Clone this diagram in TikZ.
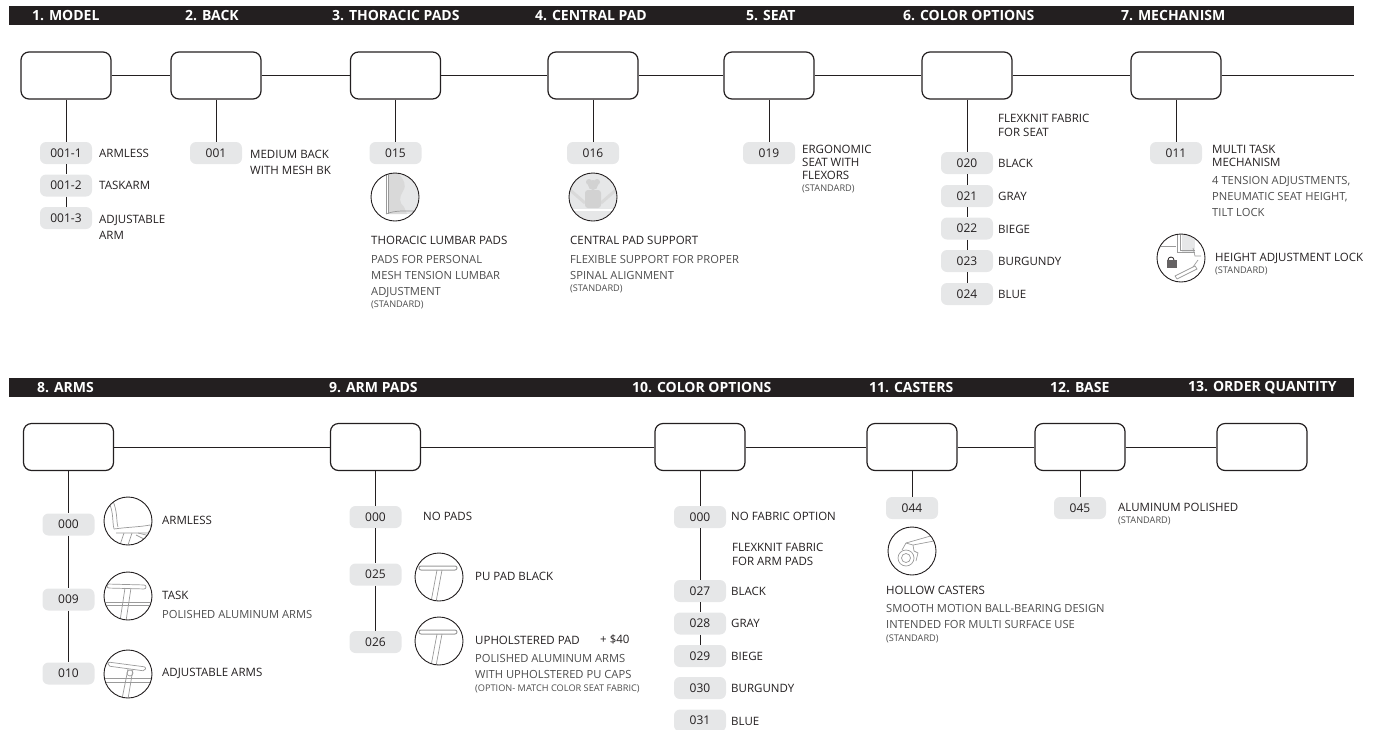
\documentclass[tikz,border=0pt]{standalone}
\usepackage{fontspec}
\setmainfont{Open Sans}
\definecolor{ink}{HTML}{231F20}
\definecolor{pillgray}{HTML}{E6E7E8}
\definecolor{desc}{HTML}{4D4D4D}
\definecolor{icg}{HTML}{9A9A9A}
\tikzset{
 hdr/.style={anchor=west, inner sep=0, text=white, font=\fontsize{14}{16}\selectfont\bfseries},
 sel/.style={draw=ink, line width=1.2pt, rounded corners=8pt, minimum width=90pt, minimum height=47pt, inner sep=0},
 pill/.style={fill=pillgray, rounded corners=6pt, minimum width=52pt, minimum height=22pt, inner sep=0, text=ink, font=\fontsize{12}{14}\selectfont},
 lbl/.style={anchor=west, inner sep=0, text=ink, font=\fontsize{11.5}{13}\selectfont},
 mlbl/.style={anchor=north west, inner sep=0, align=left, text=ink, font=\fontsize{11.5}{16}\selectfont},
 blk/.style={anchor=north west, inner sep=0, align=left, text=desc, font=\fontsize{11.2}{16}\selectfont},
 std/.style={anchor=west, inner sep=0, text=desc, font=\fontsize{9.2}{10}\selectfont},
 conn/.style={draw=ink, line width=1pt},
 icon/.style={circle, draw=ink, line width=0.9pt, minimum size=48pt, inner sep=0},
 icl/.style={draw=icg, line width=0.7pt},
}
\begin{document}
\begin{tikzpicture}[x=1pt,y=-1pt]
\useasboundingbox (0,0) rectangle (1379,729);
% ---------- bars ----------
\fill[ink] (9,6) rectangle (1354,25);
\fill[ink] (9,378) rectangle (1354,397);
\node[hdr] (h1) at (32,15.5) {1. MODEL};
\node[hdr] (h2) at (185,15.5) {2. BACK};
\node[hdr] (h3) at (332,15.5) {3. THORACIC PADS};
\node[hdr] (h4) at (535,15.5) {4. CENTRAL PAD};
\node[hdr] (h5) at (746,15.5) {5. SEAT};
\node[hdr] (h6) at (903,15.5) {6. COLOR OPTIONS};
\node[hdr] (h7) at (1121,15.5) {7. MECHANISM};
\node[hdr] (h8) at (37,387.5) {8. ARMS};
\node[hdr] (h9) at (329,387.5) {9. ARM PADS};
\node[hdr] (h10) at (632,387.5) {10. COLOR OPTIONS};
\node[hdr] (h11) at (869,387.5) {11. CASTERS};
\node[hdr] (h12) at (1050,387.5) {12. BASE};
\node[hdr] (h13) at (1188,387.5) {13. ORDER QUANTITY};
% ---------- top row boxes ----------
\node[sel] (b1) at (66,75.5) {};
\node[sel] (b2) at (216,75.5) {};
\node[sel] (b3) at (395.5,75.5) {};
\node[sel] (b4) at (593,75.5) {};
\node[sel] (b5) at (769,75.5) {};
\node[sel] (b6) at (967,75.5) {};
\node[sel] (b7) at (1176,75.5) {};
\coordinate (e7) at (1354,75.5);
\draw[conn] (b1) -- (b2) (b2) -- (b3) (b3) -- (b4) (b4) -- (b5) (b5) -- (b6) (b6) -- (b7) (b7.east) -- (e7);
% ---------- bottom row boxes ----------
\node[sel] (b8) at (68.5,447) {};
\node[sel] (b9) at (375.5,447) {};
\node[sel] (b10) at (700,447) {};
\node[sel] (b11) at (912,447) {};
\node[sel] (b12) at (1080,447) {};
\node[sel] (b13) at (1262,447) {};
\draw[conn] (b8) -- (b9) (b9) -- (b10) (b10) -- (b11) (b11) -- (b12) (b12) -- (b13);
% ---------- 1. model ----------
\node[pill] (p11) at (66,153) {001-1};
\node[pill] (p12) at (66,185.5) {001-2};
\node[pill] (p13) at (66,218) {001-3};
\draw[conn] (b1.south) -- (p11.north) (p11.south) -- (p12.north) (p12.south) -- (p13.north);
\node[lbl] (t11) at (99,153.5) {ARMLESS};
\node[lbl] (t12) at (99,185.5) {TASKARM};
\node[mlbl] (t13) at (99,214.5) {ADJUSTABLE\\ARM};
% ---------- 2. back ----------
\node[pill] (p2) at (216,153) {001};
\draw[conn] (b2.south) -- (p2.north);
\node[mlbl] (t2) at (250,149.5) {MEDIUM BACK\\WITH MESH BK};
% ---------- 3. thoracic ----------
\node[pill] (p3) at (395.5,153) {015};
\draw[conn] (b3.south) -- (p3.north);
\begin{scope}[shift={(395,197)}]
 \clip (0,0) circle (23.5pt);
 \fill[pillgray] (-7,-25) rectangle (25,17);
 \fill[gray!30] (-6,-25) -- (3,-25) .. controls (9,-16) and (12,-12) .. (8,-6) .. controls (4,0) and (4,6) .. (9,10) -- (12,17) -- (-6,17) -- cycle;
 \draw[icl] (-9,-25) -- (-9,17) (-6.5,-25) -- (-6.5,17);
 \draw[icl] (-9,17) .. controls (0,13) and (12,14) .. (25,14);
\end{scope}
\node[icon] (i3) at (395,197) {};
\node[lbl] (t3) at (371,240) {THORACIC LUMBAR PADS};
\node[blk] (d3) at (371,255) {PADS FOR PERSONAL\\MESH TENSION LUMBAR\\ADJUSTMENT};
\node[std] (s3) at (371,305) {(STANDARD)};
% ---------- 4. central pad ----------
\node[pill] (p4) at (593,153) {016};
\draw[conn] (b4.south) -- (p4.north);
\begin{scope}[shift={(593,197)}]
 \clip (0,0) circle (23.5pt);
 \fill[pillgray] (-25,-25) rectangle (25,25);
 \draw[gray!30, line width=3pt] (-24,-8) -- (-8,6) (24,-8) -- (8,6);
 \fill[gray!35] (-4,-15) circle (3pt) (4,-15) circle (3pt) (0,-12) circle (5pt);
 \fill[gray!35, rounded corners=3pt] (-8,-7) rectangle (8,11);
 \draw[white, line width=1.5pt] (-25,13) -- (25,13);
\end{scope}
\node[icon] (i4) at (593,197) {};
\node[lbl] (t4) at (570,240) {CENTRAL PAD SUPPORT};
\node[blk] (d4) at (570,255) {FLEXIBLE SUPPORT FOR PROPER\\SPINAL ALIGNMENT};
\node[std] (s4) at (570,289) {(STANDARD)};
% ---------- 5. seat ----------
\node[pill] (p5) at (769,153) {019};
\draw[conn] (b5.south) -- (p5.north);
\node[mlbl, font=\fontsize{11.5}{13}\selectfont] (t5) at (802,145) {ERGONOMIC\\SEAT WITH\\FLEXORS};
\node[std] (s5) at (802,188.5) {(STANDARD)};
% ---------- 6. colour options ----------
\node[mlbl, font=\fontsize{11.5}{14}\selectfont] (t6) at (998,114) {FLEXKNIT FABRIC\\FOR SEAT};
\node[pill] (p20) at (967,163) {020};
\node[pill] (p21) at (967,196) {021};
\node[pill] (p22) at (967,228.5) {022};
\node[pill] (p23) at (967,261) {023};
\node[pill] (p24) at (967,294) {024};
\draw[conn] (b6.south) -- (p20.north) (p20.south) -- (p21.north) (p21.south) -- (p22.north) (p22.south) -- (p23.north) (p23.south) -- (p24.north);
\node[lbl] (c20) at (998,163.5) {BLACK};
\node[lbl] (c21) at (998,196.5) {GRAY};
\node[lbl] (c22) at (998,229) {BIEGE};
\node[lbl] (c23) at (998,261.5) {BURGUNDY};
\node[lbl] (c24) at (998,294.5) {BLUE};
% ---------- 7. mechanism ----------
\node[pill] (p7) at (1176,153) {011};
\draw[conn] (b7.south) -- (p7.north);
\node[mlbl, font=\fontsize{11.5}{13}\selectfont] (t7) at (1212,145) {MULTI TASK\\MECHANISM};
\node[blk] (d7) at (1212,176) {4 TENSION ADJUSTMENTS,\\PNEUMATIC SEAT HEIGHT,\\TILT LOCK};
\begin{scope}[shift={(1181,258)}]
 \clip (0,0) circle (23.5pt);
 \fill[pillgray] (1,-25) rectangle (14,-6);
 \draw[icl] (-25,-12) -- (-5,-12);
 \draw[icl] (-4,-25) -- (-4,-6) -- (14,-6) (-1,-25) -- (-1,-8) -- (14,-8);
 \draw[icl] (12,-10) -- (14,-2) -- (20,-2);
 \draw[icl] (-6,18) -- (14,8) -- (16,11) -- (-4,21) -- cycle;
 \draw[icl] (12,9) -- (17,2);
 \draw[ink, line width=0.8pt] (-13,2) arc (180:0:3pt);
 \fill[ink!70] (-14.5,2) rectangle (-4.5,10);
\end{scope}
\node[icon] (i7) at (1181,258) {};
\node[lbl] (t7b) at (1215,258) {HEIGHT ADJUSTMENT LOCK};
\node[std] (s7) at (1215,270.5) {(STANDARD)};
% ---------- 8. arms ----------
\node[pill] (a0) at (68.5,524.5) {000};
\node[pill] (a9) at (68.5,599.5) {009};
\node[pill] (a10) at (68.5,673.5) {010};
\draw[conn] (b8.south) -- (a0.north) (a0.south) -- (a9.north) (a9.south) -- (a10.north);
\begin{scope}[shift={(128,521)}]
 \clip (0,0) circle (23.5pt);
 \draw[icl] (-20,-20) .. controls (-14,-10) and (-16,0) .. (-14,8);
 \draw[icl] (-16,-22) .. controls (-10,-10) and (-12,0) .. (-10,6);
 \draw[icl] (-14,8) .. controls (0,6) and (12,6) .. (22,4) .. controls (24,8) and (22,10) .. (20,12) -- (-12,12);
 \draw[icl] (-4,12) -- (-8,24) (4,12) -- (0,24) (8,14) -- (20,20) (10,12) -- (22,15);
\end{scope}
\node[icon] (ia0) at (128,521) {};
\begin{scope}[shift={(128,596)}]
 \clip (0,0) circle (23.5pt);
 \draw[icl, rounded corners=2pt] (-21,-12) -- (18,-11) -- (18,-7) -- (-21,-8) -- cycle;
 \draw[icl] (-3,-8) -- (-8,25) (3,-8) -- (-2,25);
 \draw[icl] (-25,6) -- (25,6) (-25,9) -- (25,9);
\end{scope}
\node[icon] (ia9) at (128,596) {};
\begin{scope}[shift={(128,674)}]
 \clip (0,0) circle (23.5pt);
 \draw[icl, rounded corners=2pt] (-20,-12) -- (18,-7) -- (17,-3) -- (-20,-8) -- cycle;
 \draw[icl] (-25,4) -- (25,4) (-25,8) -- (25,8);
 \draw[icl] (0,-5) -- (-6,25) (5,-5) -- (0,25);
 \draw[icl] (2,-1) circle (3pt);
\end{scope}
\node[icon] (ia10) at (128,674) {};
\node[lbl] (ta0) at (162,520) {ARMLESS};
\node[lbl] (ta9) at (162,595) {TASK};
\node[lbl, text=desc, font=\fontsize{11.2}{13}\selectfont] (da9) at (162,614) {POLISHED ALUMINUM ARMS};
\node[lbl] (ta10) at (162,673) {ADJUSTABLE ARMS};
% ---------- 9. arm pads ----------
\node[pill] (q0) at (375.5,517) {000};
\node[pill] (q25) at (375.5,574.5) {025};
\node[pill] (q26) at (375.5,642) {026};
\draw[conn] (b9.south) -- (q0.north) (q0.south) -- (q25.north) (q25.south) -- (q26.north);
\begin{scope}[shift={(439,577)}]
 \clip (0,0) circle (23.5pt);
 \draw[icl, line width=1pt, rounded corners=2pt] (-20,-11) -- (18,-11) -- (18,-7) -- (-20,-7) -- cycle;
 \draw[icl] (-2,-7) -- (-8,25) (3,-7) -- (-3,25);
\end{scope}
\node[icon] (iq25) at (439,577) {};
\begin{scope}[shift={(439,641)}]
 \clip (0,0) circle (23.5pt);
 \draw[icl, line width=1pt, rounded corners=2pt] (-20,-11) -- (18,-11) -- (18,-7) -- (-20,-7) -- cycle;
 \draw[icl] (-2,-7) -- (-8,25) (3,-7) -- (-3,25);
\end{scope}
\node[icon] (iq26) at (439,641) {};
\node[lbl] (tq0) at (423,516.5) {NO PADS};
\node[lbl] (tq25) at (475,576) {PU PAD BLACK};
\node[lbl] (tq26) at (475,640.5) {UPHOLSTERED PAD};
\node[lbl] (pr) at (600,639.5) {+ \$40};
\node[blk] (dq26) at (475,654) {POLISHED ALUMINUM ARMS\\WITH UPHOLSTERED PU CAPS};
\node[std] (sq26) at (475,688.5) {(OPTION- MATCH COLOR SEAT FABRIC)};
% ---------- 10. colour options ----------
\node[pill] (r0) at (700,517) {000};
\node[lbl] (tr0) at (731,516) {NO FABRIC OPTION};
\node[mlbl, font=\fontsize{11.5}{14}\selectfont] (tr1) at (732,543) {FLEXKNIT FABRIC\\FOR ARM PADS};
\node[pill] (r27) at (700,591) {027};
\node[pill] (r28) at (700,623.5) {028};
\node[pill] (r29) at (700,656) {029};
\node[pill] (r30) at (700,688) {030};
\node[pill] (r31) at (700,720.5) {031};
\draw[conn] (b10.south) -- (r0.north) (r0.south) -- (r27.north) (r27.south) -- (r28.north) (r28.south) -- (r29.north);
\node[lbl] (c27) at (731,591) {BLACK};
\node[lbl] (c28) at (731,623.5) {GRAY};
\node[lbl] (c29) at (731,656) {BIEGE};
\node[lbl] (c30) at (731,688) {BURGUNDY};
\node[lbl] (c31) at (731,721) {BLUE};
% ---------- 11. casters ----------
\node[pill] (k44) at (912,508) {044};
\draw[conn] (b11.south) -- (k44.north);
\begin{scope}[shift={(912,551)}]
 \clip (0,0) circle (23.5pt);
 \draw[icl] (-6,7) circle (8pt) (-6,7) circle (4.5pt);
 \draw[icl] (-10,-1) -- (-6,-8) -- (22,-16);
 \draw[icl] (-6,-8) -- (1,-6) -- (2,0) (1,-6) -- (22,-10);
 \draw[icl] (2,0) -- (6,2) -- (4,10);
\end{scope}
\node[icon] (i11) at (912,551) {};
\node[lbl] (t11c) at (886,590) {HOLLOW CASTERS};
\node[blk] (d11) at (886,604) {SMOOTH MOTION BALL-BEARING DESIGN\\INTENDED FOR MULTI SURFACE USE};
\node[std] (s11) at (886,638.5) {(STANDARD)};
% ---------- 12. base ----------
\node[pill] (k45) at (1080,508) {045};
\draw[conn] (b12.south) -- (k45.north);
\node[lbl] (t12b) at (1118,507) {ALUMINUM POLISHED};
\node[std] (s12) at (1118,520.5) {(STANDARD)};
\end{tikzpicture}
\end{document}
